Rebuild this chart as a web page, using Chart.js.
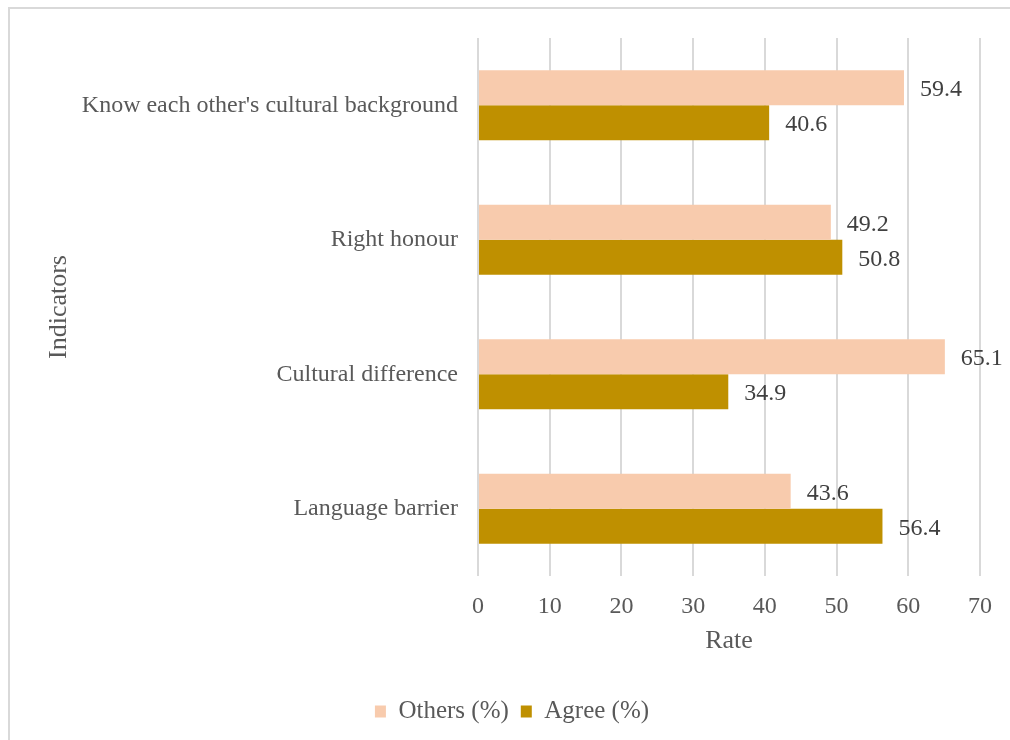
<!DOCTYPE html>
<html>
<head>
<meta charset="utf-8">
<script src="https://cdn.jsdelivr.net/npm/chart.js@4.4.1/dist/chart.umd.min.js"></script>
<style>
  html, body { margin: 0; padding: 0; background: #fff; overflow: hidden; }
  #frame {
    position: absolute; left: 8px; top: 7px;
    width: 1100px; height: 800px;
    border: 2px solid #d9d9d9;
  }
  #wrap { position: absolute; left: 0; top: 0; width: 1010px; height: 740px; }
</style>
</head>
<body>
<div id="frame"></div>
<div id="wrap"><canvas id="chart"></canvas></div>
<script>
const categories = [
  "Know each other's cultural background",
  "Right honour",
  "Cultural difference",
  "Language barrier"
];
const othersValues = [59.4, 49.2, 65.1, 43.6];
const agreeValues = [40.6, 50.8, 34.9, 56.4];
const xTicks = [0, 10, 20, 30, 40, 50, 60, 70];

const textColor = "#595959";
const serif = "'Liberation Serif', 'Times New Roman', serif";

// value labels just past the end of each bar
const barLabels = {
  id: "barLabels",
  afterDatasetsDraw(chart) {
    const ctx = chart.ctx;
    ctx.save();
    ctx.font = "24px " + serif;
    ctx.fillStyle = "#404040";
    ctx.textBaseline = "middle";
    ctx.textAlign = "left";
    chart.data.datasets.forEach((ds, i) => {
      const meta = chart.getDatasetMeta(i);
      meta.data.forEach((bar, j) => {
        ctx.fillText(ds.data[j].toFixed(1), bar.x + 16, bar.y + 2);
      });
    });
    ctx.restore();
  }
};

const ctx = document.getElementById("chart").getContext("2d");

new Chart(ctx, {
  type: "bar",
  data: {
    labels: categories,
    datasets: [
      {
        label: "Others (%)",
        data: othersValues,
        backgroundColor: "#F8CBAD",
        categoryPercentage: 0.52,
        barPercentage: 1
      },
      {
        label: "Agree (%)",
        data: agreeValues,
        backgroundColor: "#BF9000",
        categoryPercentage: 0.52,
        barPercentage: 1
      }
    ]
  },
  options: {
    indexAxis: "y",
    responsive: true,
    maintainAspectRatio: false,
    animation: false,
    layout: {
      padding: { left: 44, top: 38, right: 30, bottom: 6 }
    },
    plugins: {
      legend: {
        display: true,
        position: "bottom",
        labels: {
          color: textColor,
          font: { family: serif, size: 25 },
          boxWidth: 11,
          boxHeight: 12,
          padding: 12
        }
      },
      tooltip: { enabled: false }
    },
    scales: {
      x: {
        min: 0,
        max: 70,
        afterBuildTicks: scale => {
          scale.ticks = xTicks.map(v => ({ value: v }));
        },
        grid: {
          color: "#d9d9d9",
          lineWidth: 2,
          drawTicks: false
        },
        border: { display: false },
        ticks: {
          color: textColor,
          font: { family: serif, size: 24 },
          padding: 16
        },
        title: {
          display: true,
          text: "Rate",
          color: textColor,
          font: { family: serif, size: 26 },
          padding: { top: 0, bottom: 30 }
        },
        afterFit: scale => { scale.height = 111; }
      },
      y: {
        grid: { display: false, drawTicks: false },
        border: { display: false },
        ticks: {
          color: textColor,
          font: { family: serif, size: 24 },
          padding: 20
        },
        title: {
          display: true,
          text: "Indicators",
          color: textColor,
          font: { family: serif, size: 26 },
          padding: 0
        },
        afterFit: scale => { scale.width = 434; }
      }
    }
  },
  plugins: [barLabels]
});
</script>
</body>
</html>
